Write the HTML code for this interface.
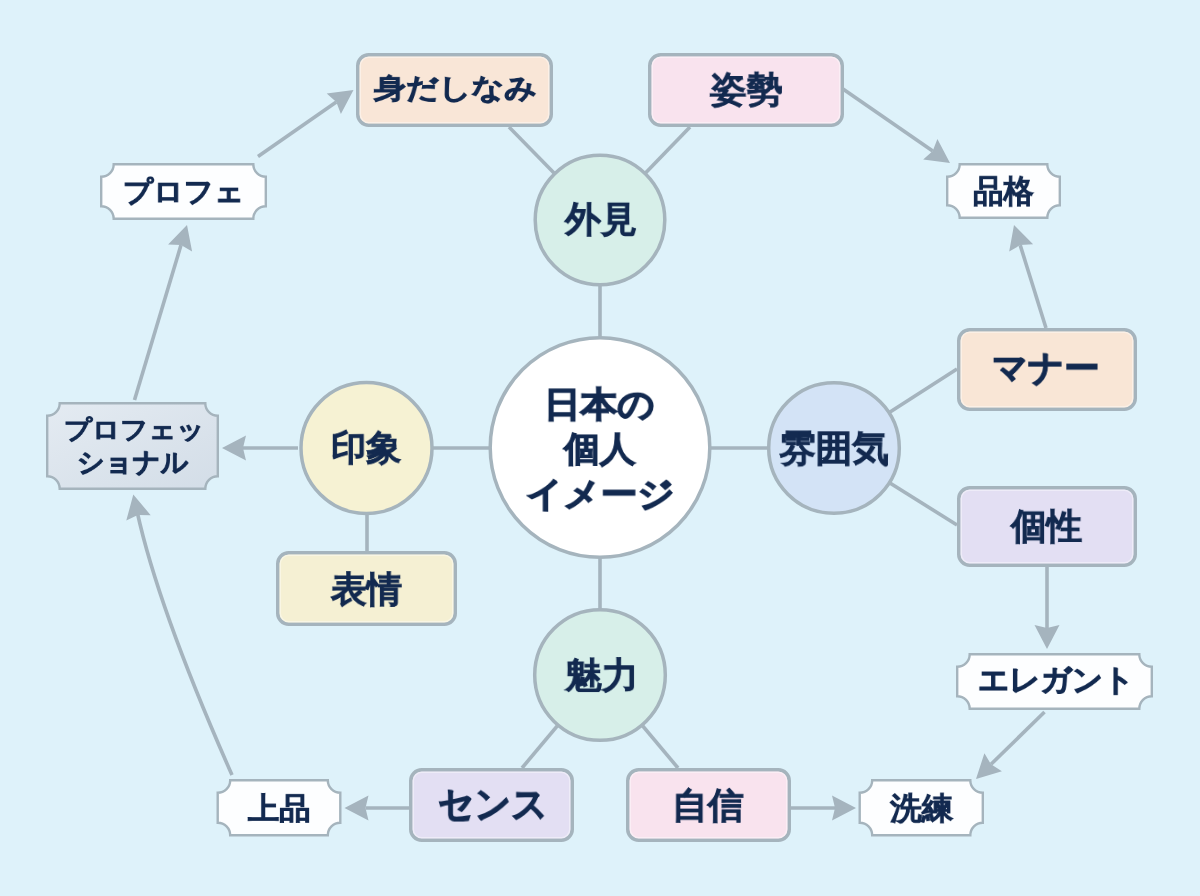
<!DOCTYPE html>
<html lang="ja"><head><meta charset="utf-8"><title>日本の個人イメージ</title>
<style>
html,body{margin:0;padding:0;}
body{width:1200px;height:896px;overflow:hidden;position:relative;background:#def2fa;font-family:"Liberation Sans",sans-serif;}
svg{position:absolute;left:0;top:0;}
.t{position:absolute;height:80px;line-height:80px;font-size:40px;transform-origin:0 0;color:#132a50;font-weight:bold;-webkit-text-stroke:1.3px #132a50;white-space:nowrap;will-change:transform;}
</style></head><body>
<svg width="1200" height="896" viewBox="0 0 1200 896">
<defs><linearGradient id="pg" x1="0" y1="0" x2="1" y2="1"><stop offset="0" stop-color="#e4ebf2"/><stop offset="1" stop-color="#d3dde7"/></linearGradient></defs><line x1="600" y1="220" x2="600" y2="448" stroke="#a5b4be" stroke-width="3.6"/>
<line x1="366" y1="448" x2="600" y2="448" stroke="#a5b4be" stroke-width="3.6"/>
<line x1="600" y1="448" x2="834" y2="448" stroke="#a5b4be" stroke-width="3.6"/>
<line x1="600" y1="448" x2="600" y2="675" stroke="#a5b4be" stroke-width="3.6"/>
<line x1="509" y1="127" x2="600" y2="220" stroke="#a5b4be" stroke-width="3.6"/>
<line x1="690" y1="127" x2="600" y2="220" stroke="#a5b4be" stroke-width="3.6"/>
<line x1="367" y1="448" x2="367" y2="552" stroke="#a5b4be" stroke-width="3.6"/>
<line x1="957" y1="369" x2="834" y2="448" stroke="#a5b4be" stroke-width="3.6"/>
<line x1="957" y1="525" x2="834" y2="448" stroke="#a5b4be" stroke-width="3.6"/>
<line x1="522" y1="768" x2="600" y2="675" stroke="#a5b4be" stroke-width="3.6"/>
<line x1="678" y1="768" x2="600" y2="675" stroke="#a5b4be" stroke-width="3.6"/>
<line x1="298" y1="448" x2="243.0" y2="448.0" stroke="#a5b4be" stroke-width="3.6"/><path d="M222,448 L246.0,435.5 L243.0,448.0 L246.0,460.5 Z" fill="#a5b4be"/>
<line x1="134.5" y1="400" x2="181.0" y2="245.1" stroke="#a5b4be" stroke-width="3.6"/><path d="M187,225 L192.1,251.6 L181.0,245.1 L168.1,244.4 Z" fill="#a5b4be"/>
<line x1="258" y1="156.5" x2="336.3" y2="102.0" stroke="#a5b4be" stroke-width="3.6"/><path d="M353.5,90 L340.9,114.0 L336.3,102.0 L326.7,93.5 Z" fill="#a5b4be"/>
<line x1="843" y1="89" x2="932.7" y2="151.1" stroke="#a5b4be" stroke-width="3.6"/><path d="M950,163 L923.2,159.6 L932.7,151.1 L937.4,139.1 Z" fill="#a5b4be"/>
<line x1="1046" y1="328" x2="1020.2" y2="245.1" stroke="#a5b4be" stroke-width="3.6"/><path d="M1014,225 L1033.1,244.2 L1020.2,245.1 L1009.2,251.6 Z" fill="#a5b4be"/>
<line x1="1047" y1="567" x2="1047.0" y2="628.0" stroke="#a5b4be" stroke-width="3.6"/><path d="M1047,649 L1034.5,625.0 L1047.0,628.0 L1059.5,625.0 Z" fill="#a5b4be"/>
<line x1="1044.5" y1="712" x2="991.0" y2="764.3" stroke="#a5b4be" stroke-width="3.6"/><path d="M976,779 L984.4,753.3 L991.0,764.3 L1001.9,771.2 Z" fill="#a5b4be"/>
<line x1="790" y1="808" x2="835.0" y2="808.0" stroke="#a5b4be" stroke-width="3.6"/><path d="M856,808 L832.0,820.5 L835.0,808.0 L832.0,795.5 Z" fill="#a5b4be"/>
<line x1="410" y1="808" x2="365.5" y2="808.0" stroke="#a5b4be" stroke-width="3.6"/><path d="M344.5,808 L368.5,795.5 L365.5,808.0 L368.5,820.5 Z" fill="#a5b4be"/>
<path d="M232,775 Q158.5,609 137.2,512" fill="none" stroke="#a5b4be" stroke-width="3.6"/>
<path d="M133.3,494.5 L150.7,515.2 L137.8,515.0 L126.3,520.6 Z" fill="#a5b4be"/>
<circle cx="600" cy="447.5" r="109.8" fill="#ffffff" stroke="#a5b4bd" stroke-width="3.5"/>
<circle cx="600" cy="220" r="64.8" fill="#d7efe9" stroke="#a5b4bd" stroke-width="3.5"/>
<circle cx="366.5" cy="448" r="65.5" fill="#f6f2d3" stroke="#a5b4bd" stroke-width="3.5"/>
<circle cx="834" cy="448" r="65.3" fill="#d3e3f6" stroke="#a5b4bd" stroke-width="3.5"/>
<circle cx="600" cy="675" r="65.3" fill="#d7efe9" stroke="#a5b4bd" stroke-width="3.5"/>
<rect x="357.75" y="54.75" width="193.5" height="70.5" rx="11" fill="#f9e6d7" stroke="#a5b4bd" stroke-width="3.5"/>
<rect x="360.25" y="57.25" width="188.5" height="65.5" rx="8.5" fill="none" stroke="#ffffff" stroke-opacity="0.4" stroke-width="1.5"/>
<rect x="649.75" y="54.75" width="192.5" height="70.5" rx="11" fill="#f9e3ee" stroke="#a5b4bd" stroke-width="3.5"/>
<rect x="652.25" y="57.25" width="187.5" height="65.5" rx="8.5" fill="none" stroke="#ffffff" stroke-opacity="0.4" stroke-width="1.5"/>
<rect x="958.75" y="329.75" width="176.5" height="79.5" rx="11" fill="#f9e6d6" stroke="#a5b4bd" stroke-width="3.5"/>
<rect x="961.25" y="332.25" width="171.5" height="74.5" rx="8.5" fill="none" stroke="#ffffff" stroke-opacity="0.4" stroke-width="1.5"/>
<rect x="958.75" y="487.75" width="176.5" height="77.5" rx="11" fill="#e3dff3" stroke="#a5b4bd" stroke-width="3.5"/>
<rect x="961.25" y="490.25" width="171.5" height="72.5" rx="8.5" fill="none" stroke="#ffffff" stroke-opacity="0.4" stroke-width="1.5"/>
<rect x="277.75" y="552.75" width="177.5" height="71.5" rx="11" fill="#f5f0d3" stroke="#a5b4bd" stroke-width="3.5"/>
<rect x="280.25" y="555.25" width="172.5" height="66.5" rx="8.5" fill="none" stroke="#ffffff" stroke-opacity="0.4" stroke-width="1.5"/>
<rect x="410.75" y="769.75" width="161.5" height="70.5" rx="11" fill="#e3dff3" stroke="#a5b4bd" stroke-width="3.5"/>
<rect x="413.25" y="772.25" width="156.5" height="65.5" rx="8.5" fill="none" stroke="#ffffff" stroke-opacity="0.4" stroke-width="1.5"/>
<rect x="627.75" y="769.75" width="161.5" height="70.5" rx="11" fill="#f9e3ee" stroke="#a5b4bd" stroke-width="3.5"/>
<rect x="630.25" y="772.25" width="156.5" height="65.5" rx="8.5" fill="none" stroke="#ffffff" stroke-opacity="0.4" stroke-width="1.5"/>
<path d="M113.7,164.2 L253.3,164.2 A12.5,12.5 0 0 0 265.8,176.7 L265.8,206.3 A12.5,12.5 0 0 0 253.3,218.8 L113.7,218.8 A12.5,12.5 0 0 0 101.2,206.3 L101.2,176.7 A12.5,12.5 0 0 0 113.7,164.2 Z" fill="#fdfeff" stroke="#a5b4bd" stroke-width="2.4"/>
<path d="M59.7,403.2 L205.3,403.2 A12.5,12.5 0 0 0 217.8,415.7 L217.8,476.3 A12.5,12.5 0 0 0 205.3,488.8 L59.7,488.8 A12.5,12.5 0 0 0 47.2,476.3 L47.2,415.7 A12.5,12.5 0 0 0 59.7,403.2 Z" fill="url(#pg)" stroke="#a5b4bd" stroke-width="2.4"/>
<path d="M959.7,164.2 L1047.3,164.2 A12.5,12.5 0 0 0 1059.8,176.7 L1059.8,205.3 A12.5,12.5 0 0 0 1047.3,217.8 L959.7,217.8 A12.5,12.5 0 0 0 947.2,205.3 L947.2,176.7 A12.5,12.5 0 0 0 959.7,164.2 Z" fill="#fdfeff" stroke="#a5b4bd" stroke-width="2.4"/>
<path d="M969.7,654.2 L1139.3,654.2 A12.5,12.5 0 0 0 1151.8,666.7 L1151.8,696.3 A12.5,12.5 0 0 0 1139.3,708.8 L969.7,708.8 A12.5,12.5 0 0 0 957.2,696.3 L957.2,666.7 A12.5,12.5 0 0 0 969.7,654.2 Z" fill="#fdfeff" stroke="#a5b4bd" stroke-width="2.4"/>
<path d="M230.2,780.2 L327.8,780.2 A12.5,12.5 0 0 0 340.3,792.7 L340.3,822.8 A12.5,12.5 0 0 0 327.8,835.3 L230.2,835.3 A12.5,12.5 0 0 0 217.7,822.8 L217.7,792.7 A12.5,12.5 0 0 0 230.2,780.2 Z" fill="#fdfeff" stroke="#a5b4bd" stroke-width="2.4"/>
<path d="M872.2,780.2 L970.3,780.2 A12.5,12.5 0 0 0 982.8,792.7 L982.8,822.8 A12.5,12.5 0 0 0 970.3,835.3 L872.2,835.3 A12.5,12.5 0 0 0 859.7,822.8 L859.7,792.7 A12.5,12.5 0 0 0 872.2,780.2 Z" fill="#fdfeff" stroke="#a5b4bd" stroke-width="2.4"/>
</svg>
<div class="t" style="left:373.80px;top:60.05px;transform:scale(0.7990,0.6977);-webkit-text-stroke-width:1.3px">身だしなみ</div><div class="t" style="left:710.00px;top:54.44px;transform:scale(0.9114,0.8780);-webkit-text-stroke-width:0.75px">姿勢</div><div class="t" style="left:992.24px;top:331.59px;transform:scale(0.8814,0.8919);-webkit-text-stroke-width:1.3px">マナー</div><div class="t" style="left:1010.89px;top:490.15px;transform:scale(0.8889,0.8974);-webkit-text-stroke-width:0.75px">個性</div><div class="t" style="left:331.00px;top:553.00px;transform:scale(0.8875,0.9000);-webkit-text-stroke-width:0.75px">表情</div><div class="t" style="left:438.11px;top:766.47px;transform:scale(0.8932,0.9412);-webkit-text-stroke-width:1.3px">センス</div><div class="t" style="left:672.42px;top:769.00px;transform:scale(0.8947,0.9000);-webkit-text-stroke-width:0.75px">自信</div><div class="t" style="left:564.90px;top:183.15px;transform:scale(0.9000,0.8974);-webkit-text-stroke-width:0.75px">外見</div><div class="t" style="left:331.24px;top:412.25px;transform:scale(0.8782,0.8875);-webkit-text-stroke-width:0.75px">印象</div><div class="t" style="left:779.00px;top:410.62px;transform:scale(0.9160,0.9231);-webkit-text-stroke-width:0.75px">雰囲気</div><div class="t" style="left:564.92px;top:639.00px;transform:scale(0.9211,0.9000);-webkit-text-stroke-width:0.75px">魅力</div><div class="t" style="left:122.52px;top:162.56px;transform:scale(0.7389,0.7073);-webkit-text-stroke-width:1.3px">プロフェ</div><div class="t" style="left:973.24px;top:159.31px;transform:scale(0.7595,0.7949);-webkit-text-stroke-width:0.75px">品格</div><div class="t" style="left:978.47px;top:649.21px;transform:scale(0.7629,0.7632);-webkit-text-stroke-width:1.3px">エレガント</div><div class="t" style="left:248.00px;top:778.00px;transform:scale(0.7821,0.7500);-webkit-text-stroke-width:1.0px">上品</div><div class="t" style="left:889.79px;top:776.50px;transform:scale(0.7901,0.7750);-webkit-text-stroke-width:0.75px">洗練</div><div class="t" style="left:63.63px;top:403.95px;transform:scale(0.6853,0.6341);-webkit-text-stroke-width:1.3px">プロフェッ</div><div class="t" style="left:76.64px;top:434.78px;transform:scale(0.6790,0.6757);-webkit-text-stroke-width:1.3px">ショナル</div><div class="t" style="left:544.02px;top:368.50px;transform:scale(0.9165,0.8750);-webkit-text-stroke-width:1.5px">日本の</div><div class="t" style="left:564.49px;top:413.82px;transform:scale(0.8952,0.8659);-webkit-text-stroke-width:1.2px">個人</div><div class="t" style="left:526.09px;top:459.03px;transform:scale(0.9125,0.8684);-webkit-text-stroke-width:1.6px">イメージ</div>
</body></html>
